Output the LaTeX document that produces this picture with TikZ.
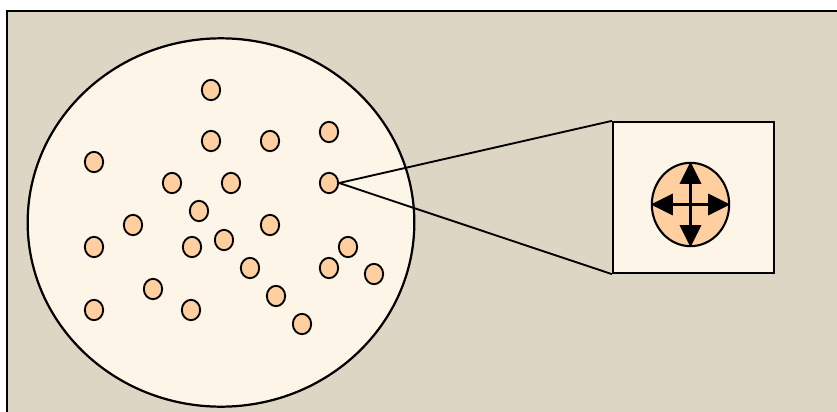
\documentclass[tikz,border=0pt]{standalone}
\usepackage{tikz}
\usetikzlibrary{shapes.geometric, arrows.meta}

\definecolor{linen}{RGB}{222,214,197}
\definecolor{cream}{RGB}{253,246,232}
\definecolor{peach}{RGB}{255,207,160}

\begin{document}
\begin{tikzpicture}[x=0.03cm, y=-0.03cm,
    dot/.style={draw, ellipse, fill=peach, line width=1.6pt, minimum width=0.55cm, minimum height=0.61cm, inner sep=0pt},
    arr/.style={line width=1.8pt, -{Triangle[length=0.66cm, width=0.64cm]}}]
  \useasboundingbox (0,0) rectangle (837,411);
  \clip (0,0) rectangle (837,411);
  \draw[fill=linen, line width=2pt] (7,11) rectangle (860,430);

  % the whole population
  \node[draw, ellipse, fill=cream, line width=1.9pt, minimum width=11.6cm, minimum height=11.05cm] (field) at (221,222.5) {};
  \foreach \x/\y [count=\i] in {211/90, 211/141, 270/141, 329/132, 94/162, 172/183, 231/183,
      199/211, 133/225, 270/225, 94/247, 192/247, 224/240, 348/247, 250/268, 329/268,
      374/274, 153/289, 191/310, 94/310, 276/296, 302/324}
    \node[dot] (d\i) at (\x,\y) {};
  \node[dot] (src) at (329,183) {};

  % close-up of one of them
  \node[draw, fill=cream, line width=1.9pt, minimum width=4.83cm, minimum height=4.53cm] (zoom) at (693.5,197.5) {};
  \draw[line width=1.6pt] (src.east) -- (zoom.north west);
  \draw[line width=1.6pt] (src.east) -- (zoom.south west);
  \node[draw, ellipse, fill=peach, line width=1.8pt, minimum width=2.32cm, minimum height=2.5cm] (cell) at (690.5,204.5) {};
  \draw[arr] (cell.center) -- (cell.north);
  \draw[arr] (cell.center) -- (cell.south);
  \draw[arr] (cell.center) -- (cell.east);
  \draw[arr] (cell.center) -- (cell.west);
\end{tikzpicture}
\end{document}
